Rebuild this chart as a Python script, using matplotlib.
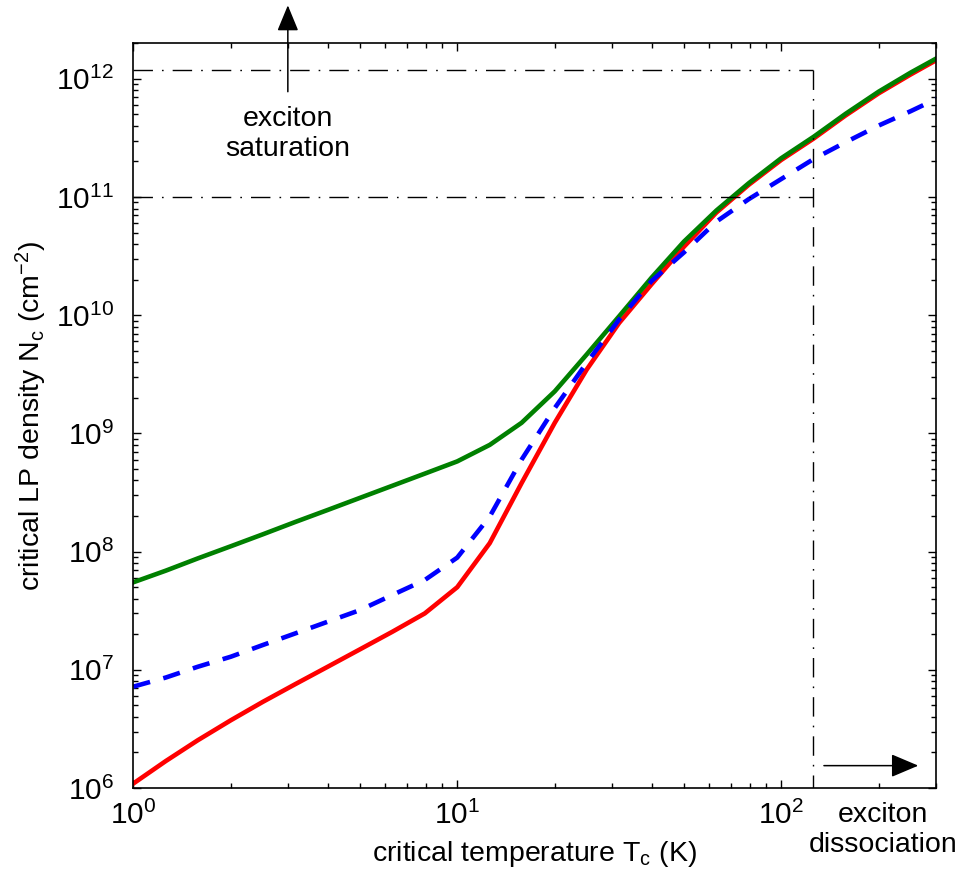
import numpy as np
import matplotlib
matplotlib.use("Agg")
import matplotlib.pyplot as plt
from matplotlib.ticker import LogLocator, NullFormatter

# ===============================
# Data: critical LP density vs critical temperature
# ===============================
T_c = [1.0, 1.26, 1.58, 2.0, 2.51, 3.16, 3.98, 5.01, 6.31, 7.94,
       10.0, 12.6, 15.8, 20.0, 25.1, 31.6, 39.8, 50.1, 63.1, 79.4,
       100.0, 126.0, 158.0, 200.0, 251.0, 316.0]

N_red = [1.09e6, 1.69e6, 2.53e6, 3.74e6, 5.35e6, 7.55e6, 1.06e7, 1.49e7, 2.1e7, 3.0e7,
         5.0e7, 1.18e8, 3.8e8, 1.23e9, 3.47e9, 8.6e9, 1.83e10, 3.8e10, 7.4e10, 1.27e11,
         2.06e11, 3.13e11, 4.9e11, 7.55e11, 1.09e12, 1.55e12]

N_green = [5.5e7, 6.9e7, 8.75e7, 1.11e8, 1.4e8, 1.78e8, 2.25e8, 2.85e8, 3.61e8, 4.57e8,
           5.8e8, 8.0e8, 1.23e9, 2.27e9, 4.66e9, 9.8e9, 2.08e10, 4.2e10, 7.7e10, 1.31e11,
           2.13e11, 3.24e11, 5.06e11, 7.8e11, 1.13e12, 1.6e12]

N_blue = [7.2e6, 8.6e6, 1.06e7, 1.29e7, 1.62e7, 2.03e7, 2.55e7, 3.2e7, 4.3e7, 5.75e7,
          8.9e7, 1.98e8, 6.0e8, 1.64e9, 3.96e9, 9.2e9, 1.95e10, 3.4e10, 6.2e10, 9.6e10,
          1.42e11, 2.1e11, 2.91e11, 4.03e11, 5.33e11, 7.2e11]

# limits for the exciton regime
N_sat_hi = 1.2e12
N_sat_lo = 1e11
T_diss = 125.0

# ===============================
# Style
# ===============================
plt.rcParams["font.family"] = "Liberation Sans"
plt.rcParams["mathtext.fontset"] = "custom"
plt.rcParams["mathtext.rm"] = "Liberation Sans"
plt.rcParams["mathtext.it"] = "Liberation Sans:italic"
plt.rcParams["mathtext.bf"] = "Liberation Sans:bold"

fig = plt.figure(figsize=(9.63, 8.82), dpi=100)
ax = fig.add_axes([0.1384, 0.1066, 0.8333, 0.8443])

ax.plot(T_c, N_red, color="#ff0000", lw=3.3)
ax.plot(T_c, N_green, color="#008000", lw=3.3)
ax.plot(T_c, N_blue, color="#0000ff", lw=3.3, ls=(0, (3.8, 3.0)))

# dash-dot guide lines
dashdot = (0, (14, 6.5, 1.2, 6.5))
ax.plot([1, T_diss], [N_sat_hi, N_sat_hi], color="k", lw=1, ls=dashdot)
ax.plot([1, T_diss], [N_sat_lo, N_sat_lo], color="k", lw=1, ls=dashdot)
ax.plot([T_diss, T_diss], [N_sat_hi, 1e6], color="k", lw=1, ls=dashdot)

ax.set_xscale("log")
ax.set_yscale("log")
ax.set_xlim(1, 300)
ax.set_ylim(1e6, 2e12)

ax.xaxis.set_major_locator(LogLocator(base=10, numticks=10))
ax.xaxis.set_minor_locator(LogLocator(base=10, subs=np.arange(2, 10), numticks=50))
ax.yaxis.set_major_locator(LogLocator(base=10, numticks=15))
ax.yaxis.set_minor_locator(LogLocator(base=10, subs=np.arange(2, 10), numticks=100))
ax.xaxis.set_minor_formatter(NullFormatter())
ax.yaxis.set_minor_formatter(NullFormatter())

ax.tick_params(which="both", direction="in", top=True, right=True, width=1)
ax.tick_params(which="major", length=6, labelsize=21.5)
ax.tick_params(which="minor", length=3.5)
ax.tick_params(axis="x", which="major", pad=9)
ax.tick_params(axis="y", which="major", pad=14)
for sp in ax.spines.values():
    sp.set_linewidth(1.2)

ax.set_xlabel(r"critical temperature T$_\mathregular{c}$ (K)", fontsize=20.5)
ax.set_ylabel(r"critical LP density N$_\mathregular{c}$ (cm$^{\mathregular{-2}}$)", fontsize=20.5)
ax.xaxis.set_label_coords(0.5, -0.068)
ax.yaxis.set_label_coords(-0.105, 0.5)

# ===============================
# Annotations
# ===============================
ax.annotate("", xy=(3.0, 1.051), xytext=(3.0, 0.935),
            xycoords=("data", "axes fraction"), textcoords=("data", "axes fraction"),
            arrowprops=dict(arrowstyle="-|>,head_length=0.8,head_width=0.33",
                            mutation_scale=20, lw=1.1, color="k", shrinkA=0, shrinkB=0),
            annotation_clip=False)
ax.text(3.0, 0.878, "exciton\nsaturation", transform=ax.get_xaxis_transform(),
        ha="center", va="center", fontsize=20.5, linespacing=1.2)

ax.annotate("", xy=(265, 0.030), xytext=(135.5, 0.030),
            xycoords=("data", "axes fraction"), textcoords=("data", "axes fraction"),
            arrowprops=dict(arrowstyle="-|>,head_length=0.85,head_width=0.36",
                            mutation_scale=20, lw=1.1, color="k", shrinkA=0, shrinkB=0),
            annotation_clip=False)
ax.text(206, -0.056, "exciton\ndissociation", transform=ax.get_xaxis_transform(),
        ha="center", va="center", fontsize=20.5, linespacing=1.2, clip_on=False)

fig.savefig("out.png", dpi=100)
